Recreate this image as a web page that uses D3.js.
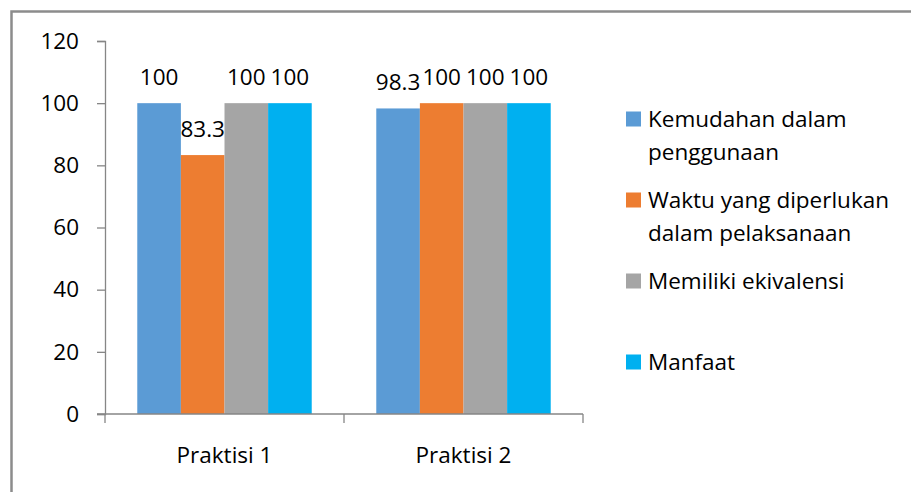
<!DOCTYPE html>
<html>
<head>
<meta charset="utf-8">
<script src="https://cdn.jsdelivr.net/npm/d3@7"></script>
<style>
  html, body { margin: 0; padding: 0; background: #fff; }
  svg { display: block; }
  text { font-family: "Open Sans", "Noto Sans", sans-serif; fill: #000; }
</style>
</head>
<body>
<svg id="chart" width="911" height="492"></svg>
<script>
const categories = ["Praktisi 1", "Praktisi 2"];
const seriesNames = ["Kemudahan dalam penggunaan", "Waktu yang diperlukan dalam pelaksanaan", "Memiliki ekivalensi", "Manfaat"];
const legendLines = [["Kemudahan dalam", "penggunaan"], ["Waktu yang diperlukan", "dalam pelaksanaan"], ["Memiliki ekivalensi"], ["Manfaat"]];
const kemudahan = [100, 98.3];
const waktu = [83.3, 100];
const ekivalensi = [100, 100];
const manfaat = [100, 100];
const yTicks = [0, 20, 40, 60, 80, 100, 120];
const colors = ["#5B9BD5", "#ED7D31", "#A5A5A5", "#00B0F0"];

const seriesValues = [kemudahan, waktu, ekivalensi, manfaat];
const svg = d3.select("#chart");
const axisColor = "#868686";
const fontSize = 22.5;

// outer border (extends beyond the visible frame on right/bottom)
svg.append("rect").attr("x", 11.5).attr("y", 11.5).attr("width", 1000).attr("height", 1000)
  .attr("fill", "none").attr("stroke", "#8c8c8c").attr("stroke-width", 2.5);

const plotLeft = 105, plotRight = 583, plotTop = 41, plotBottom = 414;

const x0 = d3.scaleBand().domain(categories).range([plotLeft, plotRight]).paddingInner(0).paddingOuter(0);
const x1 = d3.scaleBand().domain(d3.range(seriesNames.length)).range([0, x0.bandwidth()]).paddingInner(0).paddingOuter(0.74);
const y = d3.scaleLinear().domain([0, 120]).range([plotBottom, plotTop]);

// bars
categories.forEach((cat, ci) => {
  const g = svg.append("g").attr("transform", `translate(${x0(cat)},0)`);
  seriesValues.forEach((vals, si) => {
    g.append("rect")
      .attr("x", x1(si))
      .attr("y", y(vals[ci]))
      .attr("width", x1.bandwidth())
      .attr("height", y(0) - y(vals[ci]))
      .attr("fill", colors[si]);
  });
  seriesValues.forEach((vals, si) => {
    g.append("text")
      .attr("x", x1(si) + x1.bandwidth() / 2)
      .attr("y", y(vals[ci]) - 18)
      .attr("text-anchor", "middle")
      .style("font-size", fontSize + "px")
      .text(String(vals[ci]));
  });
});

// y axis
const yAxis = d3.axisLeft(y).tickValues(yTicks).tickSize(8).tickPadding(18).tickFormat(d3.format("d"));
const yg = svg.append("g").attr("transform", `translate(${plotLeft},0)`).call(yAxis);
yg.select(".domain").attr("stroke", axisColor).attr("stroke-width", 1.3);
yg.selectAll(".tick line").attr("stroke", axisColor).attr("stroke-width", 1.3);
yg.selectAll(".tick text").style("font-size", fontSize + "px").style("font-family", '"Open Sans", sans-serif').attr("fill", "#000");

// x axis line
svg.append("line").attr("x1", plotLeft - 8).attr("x2", plotRight).attr("y1", y(0)).attr("y2", y(0))
  .attr("stroke", axisColor).attr("stroke-width", 1.3);
// category separator ticks
const sepXs = categories.map(c => x0(c)).concat([x0(categories[categories.length - 1]) + x0.bandwidth()]);
svg.selectAll(".sep").data(sepXs).enter().append("line")
  .attr("x1", d => d).attr("x2", d => d).attr("y1", y(0)).attr("y2", y(0) + 9)
  .attr("stroke", axisColor).attr("stroke-width", 1.3);
// category labels
svg.selectAll(".cat").data(categories).enter().append("text")
  .attr("x", d => x0(d) + x0.bandwidth() / 2)
  .attr("y", 463)
  .attr("text-anchor", "middle")
  .style("font-size", fontSize + "px")
  .text(d => d);

// legend
const legendX = 626, legendY0 = 119, legendStep = 81, lineH = 33;
legendLines.forEach((lines, i) => {
  const cy = legendY0 + i * legendStep;
  svg.append("rect").attr("x", legendX).attr("y", cy - 7.5).attr("width", 15).attr("height", 15).attr("fill", colors[i]);
  const t = svg.append("text").attr("x", legendX + 22).attr("y", cy + 8).style("font-size", fontSize + "px");
  lines.forEach((ln, li) => {
    t.append("tspan").attr("x", legendX + 22).attr("dy", li === 0 ? 0 : lineH).text(ln);
  });
});
</script>
</body>
</html>
